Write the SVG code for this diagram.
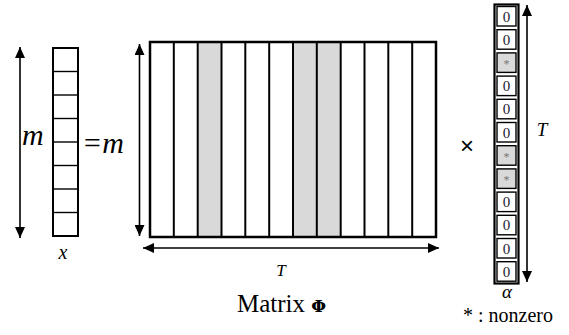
<svg xmlns="http://www.w3.org/2000/svg" width="569" height="335" viewBox="0 0 569 335">
<defs>
<marker id="ah" markerUnits="userSpaceOnUse" markerWidth="12" markerHeight="10" viewBox="0 0 12 10" refX="11" refY="5" orient="auto-start-reverse">
<path d="M0,0 L11,5 L0,10 z" fill="#000"/>
</marker>
</defs>
<style>
.box{fill:#fff;stroke:#000;stroke-width:2}
.cell{fill:#fff;stroke:#000;stroke-width:1.4}
.arr{stroke:#000;stroke-width:1.6;fill:none;marker-start:url(#ah);marker-end:url(#ah)}
text{font-family:'Liberation Serif','Times New Roman','DejaVu Serif',serif;fill:#000}
.mi{font-style:italic}
.z{font-size:15px;fill:#1a1a2e;text-anchor:middle}
.st{font-size:12px;fill:#777;text-anchor:middle}
</style>

<g id="connectors">
<line class="arr" x1="20" y1="47" x2="20" y2="238"/>
<line class="arr" x1="139.5" y1="44" x2="139.5" y2="236"/>
<line class="arr" x1="143" y1="248" x2="439" y2="248"/>
<line class="arr" x1="527" y1="5" x2="527" y2="282"/>
</g>

<g id="vector-x">
<rect class="box" x="53" y="48" width="25" height="188"/>
<line class="cell" x1="53" y1="71.5" x2="78" y2="71.5"/>
<line class="cell" x1="53" y1="95" x2="78" y2="95"/>
<line class="cell" x1="53" y1="118.5" x2="78" y2="118.5"/>
<line class="cell" x1="53" y1="142" x2="78" y2="142"/>
<line class="cell" x1="53" y1="165.5" x2="78" y2="165.5"/>
<line class="cell" x1="53" y1="189" x2="78" y2="189"/>
<line class="cell" x1="53" y1="212.5" x2="78" y2="212.5"/>
<text class="mi" x="63" y="259" font-size="20" text-anchor="middle">x</text>
</g>

<g id="label-m-left">
<text class="mi" x="22" y="145" font-size="30">m</text>
</g>
<g id="label-eq-m">
<text class="mi" x="82" y="153" font-size="30">=m</text>
</g>

<g id="matrix-phi">
<rect class="box" x="150" y="42" width="286" height="195"/>
<rect x="197.7" y="42" width="23.8" height="195" fill="#d9d9d9"/>
<rect x="293" y="42" width="47.7" height="195" fill="#d9d9d9"/>
<g stroke="#000" stroke-width="2">
<line x1="173.8" y1="42" x2="173.8" y2="237"/>
<line x1="197.7" y1="42" x2="197.7" y2="237"/>
<line x1="221.5" y1="42" x2="221.5" y2="237"/>
<line x1="245.3" y1="42" x2="245.3" y2="237"/>
<line x1="269.2" y1="42" x2="269.2" y2="237"/>
<line x1="293" y1="42" x2="293" y2="237"/>
<line x1="316.8" y1="42" x2="316.8" y2="237"/>
<line x1="340.7" y1="42" x2="340.7" y2="237"/>
<line x1="364.5" y1="42" x2="364.5" y2="237"/>
<line x1="388.3" y1="42" x2="388.3" y2="237"/>
<line x1="412.2" y1="42" x2="412.2" y2="237"/>
</g>
<rect x="150" y="42" width="286" height="195" fill="none" stroke="#000" stroke-width="2.5"/>
<text class="mi" x="281" y="276" font-size="17" text-anchor="middle">T</text>
<text x="237" y="312" font-size="25">Matrix <tspan style="font-family:'DejaVu Serif',serif" font-weight="bold" font-size="17">Φ</tspan></text>
</g>

<g id="times">
<text x="467" y="154" font-size="24" text-anchor="middle" style="font-family:'Liberation Sans',sans-serif">×</text>
</g>

<g id="vector-alpha">
<rect x="494.5" y="4.5" width="24" height="279" fill="#fff" stroke="#000" stroke-width="2.2"/>
<rect class="cell" x="497" y="6.5" width="19" height="19.5"/>
<rect class="cell" x="497" y="29.7" width="19" height="19.5"/>
<rect class="cell" x="497" y="52.9" width="19" height="19.5" style="fill:#d9d9d9"/>
<rect class="cell" x="497" y="76.1" width="19" height="19.5"/>
<rect class="cell" x="497" y="99.3" width="19" height="19.5"/>
<rect class="cell" x="497" y="122.5" width="19" height="19.5"/>
<rect class="cell" x="497" y="145.7" width="19" height="19.5" style="fill:#d9d9d9"/>
<rect class="cell" x="497" y="168.9" width="19" height="19.5" style="fill:#d9d9d9"/>
<rect class="cell" x="497" y="192.1" width="19" height="19.5"/>
<rect class="cell" x="497" y="215.3" width="19" height="19.5"/>
<rect class="cell" x="497" y="238.5" width="19" height="19.5"/>
<rect class="cell" x="497" y="261.7" width="19" height="19.5"/>
<text class="z" x="506.5" y="21.5">0</text>
<text class="z" x="506.5" y="44.7">0</text>
<text class="st" x="506.5" y="68">*</text>
<text class="z" x="506.5" y="91.1">0</text>
<text class="z" x="506.5" y="114.3">0</text>
<text class="z" x="506.5" y="137.5">0</text>
<text class="st" x="506.5" y="161">*</text>
<text class="st" x="506.5" y="184.2">*</text>
<text class="z" x="506.5" y="207.1">0</text>
<text class="z" x="506.5" y="230.3">0</text>
<text class="z" x="506.5" y="253.5">0</text>
<text class="z" x="506.5" y="276.7">0</text>
<text class="mi" x="507" y="298" font-size="19" text-anchor="middle">α</text>
<text class="mi" x="542" y="136" font-size="19" text-anchor="middle">T</text>
</g>

<g id="legend">
<text x="463" y="322" font-size="20">* : nonzero</text>
</g>
</svg>
